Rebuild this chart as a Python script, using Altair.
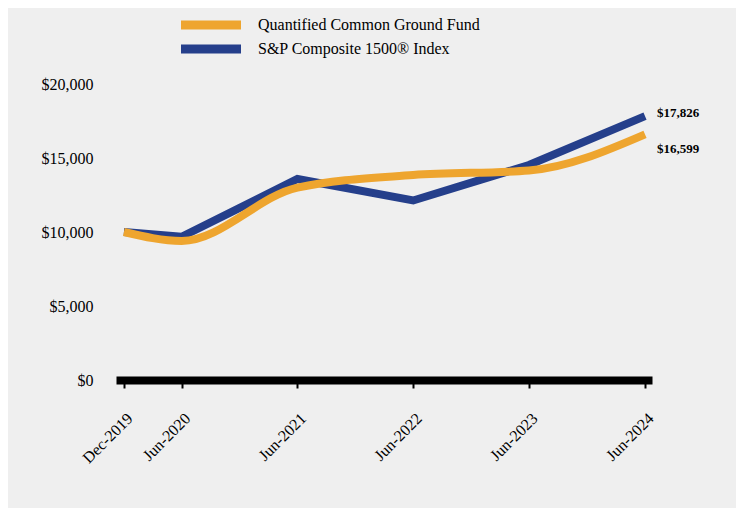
import altair as alt
import pandas as pd

dates = ["2019-12-31", "2020-06-30", "2021-06-30", "2022-06-30", "2023-06-30", "2024-06-30"]
fund_name = "Quantified Common Ground Fund"
index_name = "S&P Composite 1500® Index"
fund_values = [10000, 9400, 13000, 13850, 14150, 16599]
index_values = [10000, 9680, 13580, 12130, 14530, 17826]

series_order = [fund_name, index_name]
series_colors = ["#EEA52F", "#253F8B"]

df = pd.DataFrame(
    {"date": dates * 2,
     "value": fund_values + index_values,
     "series": [fund_name] * len(dates) + [index_name] * len(dates)}
)
last_fund = pd.DataFrame({"date": [dates[-1]], "value": [fund_values[-1]], "series": [fund_name]})
last_index = pd.DataFrame({"date": [dates[-1]], "value": [index_values[-1]], "series": [index_name]})

FONT = "Liberation Serif"

x_enc = alt.X(
    "date:T",
    scale=alt.Scale(
        type="utc",
        domain=[alt.DateTime(year=2019, month=12, date=6, utc=True),
                alt.DateTime(year=2024, month=7, date=22, utc=True)],
    ),
    axis=alt.Axis(
        values=[alt.DateTime(year=int(d[:4]), month=int(d[5:7]), date=int(d[8:]), utc=True) for d in dates],
        labelExpr="utcFormat(datum.value, '%b-%Y')",
        labelAngle=-45,
        labelFont=FONT,
        labelFontSize=16,
        labelColor="black",
        labelPadding=22,
        domainColor="black",
        domainWidth=8,
        tickColor="black",
        tickWidth=2,
        tickSize=8,
        grid=False,
        title=None,
    ),
)
y_enc = alt.Y(
    "value:Q",
    scale=alt.Scale(domain=[0, 20000], nice=False),
    axis=alt.Axis(
        values=[0, 5000, 10000, 15000, 20000],
        format="$,.0f",
        labelFont=FONT,
        labelFontSize=16,
        labelColor="black",
        labelPadding=23,
        domain=False,
        ticks=False,
        grid=False,
        title=None,
    ),
)
color_enc = alt.Color(
    "series:N",
    scale=alt.Scale(domain=series_order, range=series_colors),
    sort=series_order,
    legend=alt.Legend(
        title=None,
        orient="none",
        legendX=65,
        legendY=-67,
        padding=0,
        symbolType="M-1.9,0H10.1",
        symbolSize=100,
        symbolStrokeWidth=9,
        labelFont=FONT,
        labelFontSize=16,
        labelColor="black",
        labelOffset=58,
        labelLimit=0,
        clipHeight=16,
        rowPadding=8,
    ),
)

base = alt.Chart(df)
index_line = base.transform_filter(alt.datum.series == index_name).mark_line(
    strokeWidth=8, interpolate="linear"
).encode(x=x_enc, y=y_enc, color=color_enc)
fund_line = base.transform_filter(alt.datum.series == fund_name).mark_line(
    strokeWidth=8, interpolate="monotone"
).encode(x=x_enc, y=y_enc, color=color_enc)

index_label = alt.Chart(last_index).mark_text(
    align="left", baseline="middle", dx=12, dy=-3, font=FONT, fontSize=13, fontWeight="bold", color="black"
).encode(x="date:T", y="value:Q", text=alt.Text("value:Q", format="$,.0f"))
fund_label = alt.Chart(last_fund).mark_text(
    align="left", baseline="middle", dx=12, dy=15, font=FONT, fontSize=13, fontWeight="bold", color="black"
).encode(x="date:T", y="value:Q", text=alt.Text("value:Q", format="$,.0f"))

chart = alt.layer(index_line, fund_line, index_label, fund_label).properties(
    width=536,
    height=296,
    padding={"left": 108, "top": 76, "right": 84, "bottom": 128},
    autosize=alt.AutoSizeParams(type="none"),
    background="#efefef",
).configure_view(stroke=None)

chart.save("out.html", embed_options={"renderer": "svg", "actions": False})
